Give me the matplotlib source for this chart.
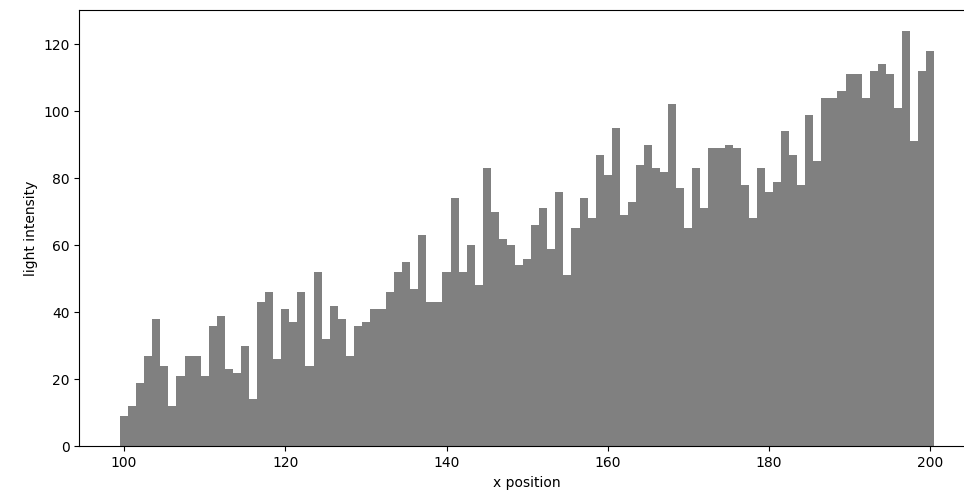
import numpy as np
import matplotlib
matplotlib.use('Agg')
import matplotlib.pyplot as plt

# x positions of the bins (one unit wide, centred on integers)
x_pos = np.arange(100, 201)

# light intensity per bin
intensity = [9, 12, 19, 27, 38, 24, 12, 21, 27, 27,
             21, 36, 39, 23, 22, 30, 14, 43, 46, 26,
             41, 37, 46, 24, 52, 32, 42, 38, 27, 36,
             37, 41, 41, 46, 52, 55, 47, 63, 43, 43,
             52, 74, 52, 60, 48, 83, 70, 62, 60, 54,
             56, 66, 71, 59, 76, 51, 65, 74, 68, 87,
             81, 95, 69, 73, 84, 90, 83, 82, 102, 77,
             65, 83, 71, 89, 89, 90, 89, 78, 68, 83,
             76, 79, 94, 87, 78, 99, 85, 104, 104, 106,
             111, 111, 104, 112, 114, 111, 101, 124, 91, 112,
             118]

fig = plt.figure(figsize=(9.64, 5.0), dpi=100)
# the figure is cropped on the right, so the axes run past the edge
ax = fig.add_axes([0.0823, 0.1074, 0.929, 0.8726])

ax.bar(x_pos, intensity, width=1.0, color='gray', linewidth=0)
ax.spines['right'].set_visible(False)

ax.set_xlabel('x position')
ax.set_ylabel('light intensity')

fig.savefig('out.png', dpi=100)
